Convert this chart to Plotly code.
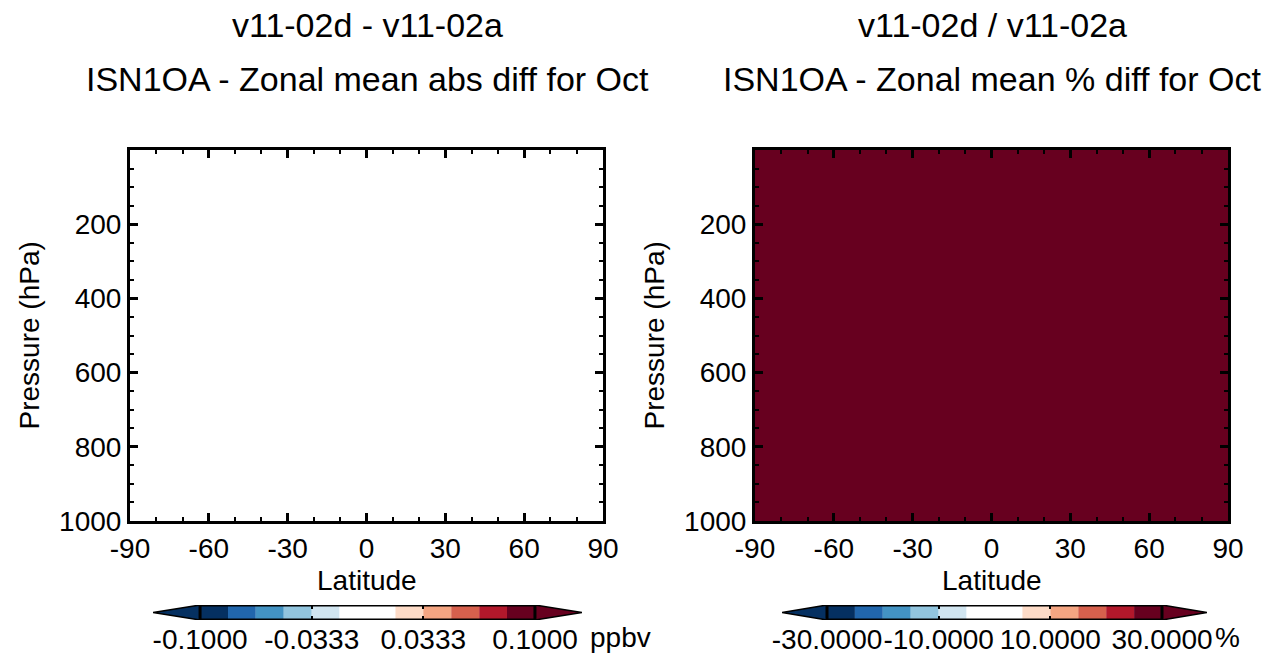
import plotly.graph_objects as go

W, H = 1281, 654
FONT = "Liberation Sans"

# ---------------- data ----------------
lat_edges = [-90, 90]
p_edges = [0, 1000]
abs_diff = [[0.0]]          # v11-02d - v11-02a (ppbv), uniform zero
pct_diff = [[100.0]]        # v11-02d / v11-02a (%), everywhere above top level

abs_levels = [-0.1, -0.0833, -0.0667, -0.05, -0.0333, -0.0167, 0.0,
              0.0167, 0.0333, 0.05, 0.0667, 0.0833, 0.1]
pct_levels = [-30, -25, -20, -15, -10, -5, 0, 5, 10, 15, 20, 25, 30]
level_colors = ["#053061", "#2166ac", "#4393c3", "#92c5de", "#d1e5f0", "#ffffff",
                "#ffffff", "#fddbc7", "#f4a582", "#d6604d", "#b2182b", "#67001f"]
under_color = "#053061"
over_color = "#67001f"

abs_ticks = [-0.1, -0.0333, 0.0333, 0.1]
abs_ticktext = ["-0.1000", "-0.0333", "0.0333", "0.1000"]
pct_ticks = [-30, -10, 10, 30]
pct_ticktext = ["-30.0000", "-10.0000", "10.0000", "30.0000"]

lat_ticks = [-90, -60, -30, 0, 30, 60, 90]
lat_ticktext = ["-90", "-60", "-30", "0", "30", "60", "90"]
p_ticks = [200, 400, 600, 800, 1000]
p_ticktext = ["200", "400", "600", "800", "1000"]


def px(x):
    return x / W


def py(y):
    return 1 - y / H


def discrete_scale(levels, colors):
    lo, hi = levels[0], levels[-1]
    cs = []
    for i, c in enumerate(colors):
        a = (levels[i] - lo) / (hi - lo)
        b = (levels[i + 1] - lo) / (hi - lo)
        cs.append([a, c])
        cs.append([b, c])
    return cs


fig = go.Figure()

# main panels
fig.add_trace(go.Heatmap(x=lat_edges, y=p_edges, z=abs_diff,
                         colorscale=discrete_scale(abs_levels, level_colors),
                         zmin=abs_levels[0], zmax=abs_levels[-1], showscale=False,
                         hoverinfo="skip", xaxis="x", yaxis="y"))
fig.add_trace(go.Heatmap(x=lat_edges, y=p_edges, z=pct_diff,
                         colorscale=discrete_scale(pct_levels, level_colors),
                         zmin=pct_levels[0], zmax=pct_levels[-1], showscale=False,
                         hoverinfo="skip", xaxis="x2", yaxis="y2"))


def add_cbar(levels, xa, ya, ext):
    lefts = levels[:-1]
    widths = [levels[i + 1] - levels[i] for i in range(len(levels) - 1)]
    fig.add_trace(go.Bar(orientation="h", y=[0] * len(widths), x=widths, base=lefts,
                         marker=dict(color=level_colors, line=dict(width=0)),
                         width=1, hoverinfo="skip", xaxis=xa, yaxis=ya, showlegend=False))
    lo, hi = levels[0], levels[-1]
    fig.add_trace(go.Scatter(x=[lo, lo - ext, lo, lo], y=[0.5, 0, -0.5, 0.5], mode="lines",
                             fill="toself", fillcolor=under_color,
                             line=dict(color="black", width=1.5),
                             hoverinfo="skip", xaxis=xa, yaxis=ya, showlegend=False))
    fig.add_trace(go.Scatter(x=[hi, hi + ext, hi, hi], y=[0.5, 0, -0.5, 0.5], mode="lines",
                             fill="toself", fillcolor=over_color,
                             line=dict(color="black", width=1.5),
                             hoverinfo="skip", xaxis=xa, yaxis=ya, showlegend=False))
    fig.add_shape(type="rect", xref=xa, yref=ya, x0=lo, x1=hi, y0=-0.5, y1=0.5,
                  line=dict(color="black", width=3), layer="above")


abs_ext = 0.0281
pct_ext = 8.06
add_cbar(abs_levels, "x3", "y3", abs_ext)
add_cbar(pct_levels, "x4", "y4", pct_ext)

tickfont = dict(family=FONT, size=28, color="black")

main_x = dict(range=[-90, 90], tickvals=lat_ticks, ticktext=lat_ticktext,
              ticks="inside", ticklen=8, tickwidth=2.5,
              showline=True, linewidth=3, linecolor="black", mirror="ticks",
              showgrid=False, zeroline=False, tickfont=tickfont, tickangle=0, automargin=False,
              minor=dict(dtick=10, ticks="inside", ticklen=4, tickwidth=2, tickcolor="black",
                         showgrid=False),
              tickcolor="black", fixedrange=True)
main_y = dict(range=[1000, 0], tickvals=p_ticks, ticktext=p_ticktext,
              ticks="inside", ticklen=8, tickwidth=2.5,
              showline=True, linewidth=3, linecolor="black", mirror="ticks",
              showgrid=False, zeroline=False, tickfont=tickfont, automargin=False,
              minor=dict(dtick=50, ticks="inside", ticklen=4, tickwidth=2, tickcolor="black",
                         showgrid=False),
              tickcolor="black", fixedrange=True)
cbar_x = dict(tickangle=0, ticks="inside", ticklen=4, tickwidth=2, tickcolor="black",
              mirror="ticks", showline=False, showgrid=False, zeroline=False,
              tickfont=tickfont, automargin=False, fixedrange=True)
cbar_y = dict(range=[-0.5, 0.5], visible=False, fixedrange=True, automargin=False)

top, bot = 150, 521
fig.update_layout(
    width=W, height=H, margin=dict(l=0, r=0, t=0, b=0, pad=0),
    paper_bgcolor="white", plot_bgcolor="white", showlegend=False,
    xaxis=dict(main_x, domain=[px(130), px(603)], anchor="y"),
    yaxis=dict(main_y, domain=[py(bot), py(top)], anchor="x"),
    xaxis2=dict(main_x, domain=[px(755), px(1228)], anchor="y2"),
    yaxis2=dict(main_y, domain=[py(bot), py(top)], anchor="x2"),
    xaxis3=dict(cbar_x, domain=[px(153), px(582)], anchor="y3",
                range=[abs_levels[0] - abs_ext, abs_levels[-1] + abs_ext],
                tickvals=abs_ticks, ticktext=abs_ticktext),
    yaxis3=dict(cbar_y, domain=[py(620), py(605)], anchor="x3"),
    xaxis4=dict(cbar_x, domain=[px(782), px(1207)], anchor="y4",
                range=[pct_levels[0] - pct_ext, pct_levels[-1] + pct_ext],
                tickvals=pct_ticks, ticktext=pct_ticktext),
    yaxis4=dict(cbar_y, domain=[py(620), py(605)], anchor="x4"),
)

ann = []
tfont = dict(family=FONT, size=34, color="black")
for cx, l1, l2 in [(367, "v11-02d - v11-02a", "ISN1OA - Zonal mean abs diff for Oct"),
                   (992, "v11-02d / v11-02a", "ISN1OA - Zonal mean % diff for Oct")]:
    ann.append(dict(x=px(cx), y=py(25), text=l1, showarrow=False, xref="paper", yref="paper",
                    xanchor="center", yanchor="middle", font=tfont))
    ann.append(dict(x=px(cx), y=py(79), text=l2, showarrow=False, xref="paper", yref="paper",
                    xanchor="center", yanchor="middle", font=tfont))
    ann.append(dict(x=px(cx), y=py(580), text="Latitude", showarrow=False, xref="paper", yref="paper",
                    xanchor="center", yanchor="middle", font=tickfont))
for cx in [29, 654]:
    ann.append(dict(x=px(cx), y=py(335.5), text="Pressure (hPa)", textangle=-90, showarrow=False,
                    xref="paper", yref="paper", xanchor="center", yanchor="middle", font=tickfont))
ann.append(dict(x=px(620), y=py(637), text="ppbv", showarrow=False, xref="paper", yref="paper",
                xanchor="center", yanchor="middle", font=tickfont))
ann.append(dict(x=px(1227), y=py(637), text="%", showarrow=False, xref="paper", yref="paper",
                xanchor="center", yanchor="middle", font=tickfont))
fig.update_layout(annotations=ann)

fig.write_html("out.html", config={"displayModeBar": False},
               post_script="document.body.style.margin='0px';document.body.style.overflow='hidden';")
